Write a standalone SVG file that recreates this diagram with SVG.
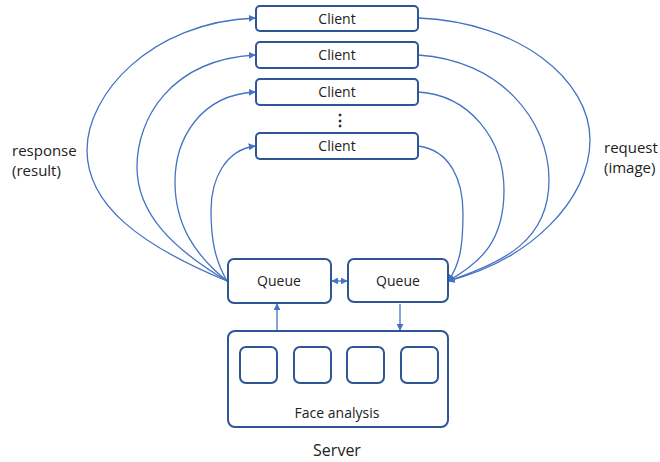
<svg xmlns="http://www.w3.org/2000/svg" width="660" height="462" viewBox="0 0 660 462">
<defs>
<marker id="ah" viewBox="0 0 10 10" refX="9" refY="5" markerWidth="7" markerHeight="7" markerUnits="userSpaceOnUse" orient="auto">
<path d="M0,0 L10,5 L0,10 z" fill="#4472C4"/>
</marker>
<marker id="ahs" viewBox="0 0 10 10" refX="1" refY="5" markerWidth="7" markerHeight="7" markerUnits="userSpaceOnUse" orient="auto">
<path d="M10,0 L0,5 L10,10 z" fill="#4472C4"/>
</marker>
<style>
.box{fill:#fff;stroke:#2F5597;stroke-width:2}
.t{font-family:"Open Sans","Noto Sans",sans-serif;fill:#222;text-anchor:middle}
.lbl{font-family:"Open Sans","Noto Sans",sans-serif;fill:#222;font-size:15px}
.c{fill:none;stroke:#4472C4;stroke-width:1.3}
</style>
</defs>
<rect width="660" height="462" fill="#fff"/>
<g id="connectors">
<path class="c" d="M227,281 C140,245 87,205 87,150 S150,22 255,18" marker-end="url(#ah)"/>
<path class="c" d="M227,281 C175,250 137,215 137,167 S170,60 255,55" marker-end="url(#ah)"/>
<path class="c" d="M227,281 C195,255 175,225 175,182 S200,95 255,92" marker-end="url(#ah)"/>
<path class="c" d="M227,281 C215,260 211,240 211,210 S225,150 255,146" marker-end="url(#ah)"/>
<path class="c" d="M418,18 C520,22 590,80 590,140 S530,260 448,281" marker-end="url(#ah)"/>
<path class="c" d="M418,55 C500,60 549,120 549,180 S505,262 448,281" marker-end="url(#ah)"/>
<path class="c" d="M418,92 C470,95 504,140 504,190 S482,262 448,281" marker-end="url(#ah)"/>
<path class="c" d="M418,146 C450,150 463,180 463,213 S460,265 448,281" marker-end="url(#ah)"/>
<path class="c" d="M332,281 L347,281" marker-start="url(#ahs)" marker-end="url(#ah)"/>
<path class="c" d="M277,330 L277,304" marker-end="url(#ah)"/>
<path class="c" d="M400,304 L400,330" marker-end="url(#ah)"/>
</g>
<g id="client1"><rect class="box" x="256" y="6" width="162" height="25" rx="4"/><text class="t" x="337" y="23.5" font-size="14">Client</text></g>
<g id="client2"><rect class="box" x="256" y="42" width="162" height="26" rx="4"/><text class="t" x="337" y="60" font-size="14">Client</text></g>
<g id="client3"><rect class="box" x="256" y="79" width="162" height="26" rx="4"/><text class="t" x="337" y="97" font-size="14">Client</text></g>
<g id="dots"><text class="t" x="340" y="126" font-size="16" font-weight="bold">⋮</text></g>
<g id="client4"><rect class="box" x="256" y="133" width="162" height="26" rx="4"/><text class="t" x="337" y="151" font-size="14">Client</text></g>
<g id="queue1"><rect class="box" x="228" y="259" width="103" height="44" rx="6"/><text class="t" x="279" y="286" font-size="14">Queue</text></g>
<g id="queue2"><rect class="box" x="348" y="259" width="100" height="43" rx="6"/><text class="t" x="398" y="286" font-size="14">Queue</text></g>
<g id="server">
<rect class="box" x="228" y="331" width="220" height="96" rx="7"/>
<rect class="box" x="240" y="347" width="37" height="36" rx="6"/>
<rect class="box" x="294" y="347" width="37" height="36" rx="6"/>
<rect class="box" x="347" y="347" width="37" height="36" rx="6"/>
<rect class="box" x="401" y="347" width="37" height="36" rx="6"/>
<text class="t" x="337" y="418" font-size="14">Face analysis</text>
</g>
<text class="t" x="337" y="456" font-size="16">Server</text>
<g id="labels">
<text class="lbl" x="12" y="156">response</text>
<text class="lbl" x="12" y="176">(result)</text>
<text class="lbl" x="604" y="153">request</text>
<text class="lbl" x="604" y="173">(image)</text>
</g>
</svg>
